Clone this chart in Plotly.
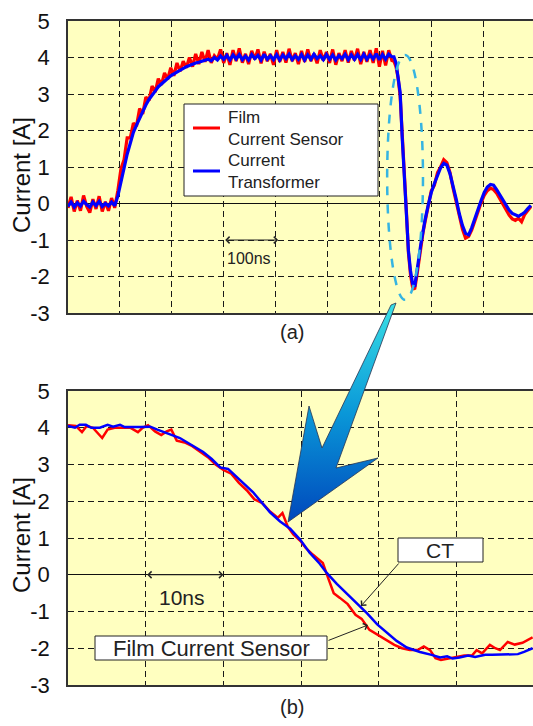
import plotly.graph_objects as go

FONT = "Liberation Sans, Arial, sans-serif"
TXT = "#222222"

# ---------------- panel (a): 100 ns / division ----------------
time_a = [0, 6, 12, 18, 24, 30, 36, 42, 48, 54, 60, 66, 72, 78, 84, 90, 96, 102, 108, 114,
          120, 126, 132, 138, 144, 150, 156, 162, 168, 174, 180, 186, 192, 198, 204, 210, 216, 222, 228, 234,
          240, 246, 252, 258, 264, 270, 276, 282, 288, 294, 300, 306, 312, 318, 324, 330, 336, 342, 348, 354,
          360, 366, 372, 378, 384, 390, 396, 402, 408, 414, 420, 426, 432, 438, 444, 450, 456, 462, 468, 474,
          480, 486, 492, 498, 504, 510, 516, 522, 528, 534, 540, 546, 552, 558, 564, 570, 576, 582, 588, 594,
          600, 606, 612, 618, 624,
          628, 632, 636, 640, 644, 648, 652, 656, 660, 664, 668, 672, 676, 680, 684, 688,
          694, 700, 706, 712, 718, 724, 730, 736, 742, 748, 754, 760, 766, 772, 778, 784, 790, 796, 802, 808,
          814, 820, 826, 832, 838, 844, 850, 856, 862, 868, 874, 880, 886, 892]

film_a = [-0.12, 0.18, -0.22, 0.08, -0.2, 0.22, -0.08, -0.25, 0.12, -0.15,
          0.2, -0.22, 0.05, -0.2, 0.15, -0.12, 0.35, 0.95, 1.2, 1.8,
          1.8, 2.2, 2.12, 2.6, 2.45, 2.92, 2.82, 3.22, 3.05, 3.42,
          3.25, 3.58, 3.4, 3.72, 3.5, 3.85, 3.62, 3.9, 3.72, 4.0,
          3.75, 4.1, 3.82, 4.15, 3.88, 4.2, 3.85, 4.05, 3.95, 4.22,
          3.85, 4.12, 3.8, 4.2, 3.9, 4.25, 3.86, 4.1, 3.82, 4.18,
          3.95, 4.22, 3.84, 4.16, 3.9, 4.1, 3.8, 4.2, 3.88, 4.15,
          3.86, 4.24, 3.9, 4.12, 3.82, 4.18, 3.88, 4.22, 3.9, 4.1,
          3.84, 4.2, 3.92, 4.15, 3.85, 4.22, 3.8, 4.12, 3.9, 4.2,
          3.86, 4.18, 3.92, 4.24, 3.82, 4.15, 3.88, 4.2, 3.85, 4.25,
          3.75, 4.18, 3.78, 4.2, 3.92,
          3.9, 3.75, 3.45, 2.95, 1.75, 0.8, -0.2, -1.35, -1.95, -2.3, -2.35, -2.0, -1.55, -1.2, -0.8, -0.5,
          -0.1, 0.35, 0.5, 0.85, 1.0, 1.2, 1.12, 0.85, 0.42, 0.05,
          -0.35, -0.7, -0.95, -0.9, -0.72, -0.45, -0.18, 0.02, 0.22, 0.35,
          0.42, 0.38, 0.28, 0.12, -0.02, -0.18, -0.32, -0.42, -0.46, -0.4,
          -0.5, -0.3, -0.2, -0.08]

ct_a = [-0.08, 0.04, -0.1, 0.02, -0.07, 0.06, -0.03, -0.1, 0.04, -0.06,
        0.06, -0.08, 0.0, -0.07, 0.04, -0.06, 0.2, 0.6, 1.0, 1.35,
        1.65, 1.95, 2.15, 2.35, 2.55, 2.7, 2.85, 2.98, 3.08, 3.2,
        3.28, 3.36, 3.42, 3.5, 3.55, 3.6, 3.66, 3.7, 3.75, 3.78,
        3.82, 3.85, 3.87, 3.9, 3.92, 3.95, 3.91, 4.0, 3.93, 4.04,
        3.95, 4.06, 3.93, 4.07, 3.96, 4.08, 3.94, 4.04, 3.93, 4.08,
        3.97, 4.06, 3.93, 4.09, 3.95, 4.05, 3.94, 4.08, 3.93, 4.07,
        3.97, 4.09, 3.94, 4.05, 3.95, 4.08, 3.93, 4.07, 3.95, 4.09,
        3.97, 4.05, 3.94, 4.08, 3.95, 4.07, 3.93, 4.05, 3.97, 4.09,
        3.94, 4.07, 3.95, 4.08, 3.94, 4.09, 3.95, 4.07, 3.96, 4.1,
        3.94, 4.08, 3.95, 4.09, 4.02,
        4.02, 3.85, 3.5, 3.05, 1.8, 0.85, -0.15, -1.3, -1.85, -2.2, -2.28, -1.95, -1.5, -1.1, -0.75, -0.45,
        -0.05, 0.3, 0.55, 0.78, 0.98, 1.1, 1.05, 0.82, 0.5, 0.12,
        -0.28, -0.6, -0.82, -0.86, -0.66, -0.4, -0.15, 0.08, 0.3, 0.45,
        0.52, 0.5, 0.38, 0.24, 0.1, -0.05, -0.18, -0.27, -0.32, -0.35,
        -0.3, -0.24, -0.14, -0.05]

# ---------------- panel (b): 10 ns / division ----------------
time_film_b = [0, 1.0, 1.8, 2.4, 3.2, 4.4, 5.1, 6.0, 8.0, 9.0,
               9.6, 10.3, 11.2, 12.0, 12.7, 13.3, 14.0, 15.0, 16.0, 17.0,
               18.0, 19.0, 20.0, 21.0, 22.0, 23.0, 24.0, 25.0, 26.0, 27.0,
               27.6, 28.3, 29.0, 30.0, 30.6, 31.5, 32.8, 33.5, 34.2, 35.0,
               36.0, 37.0, 37.8, 38.8, 40.0, 41.2, 42.0, 43.0, 44.0, 45.0,
               45.8, 46.6, 47.3, 48.0, 49.0, 50.0, 51.0, 52.0, 52.6, 53.3,
               54.3, 55.0, 55.6, 56.6, 57.5, 58.5, 59.8]
film_b = [4.07, 4.05, 3.88, 4.05, 4.0, 3.72, 3.95, 4.0, 4.0, 3.88,
          4.0, 4.07, 3.9, 3.8, 3.9, 3.95, 3.65, 3.6, 3.5, 3.35,
          3.2, 3.0, 2.85, 2.75, 2.5, 2.3, 2.05, 1.95, 1.72, 1.55,
          1.68, 1.3, 1.1, 0.9, 0.73, 0.55, 0.32, -0.1, -0.5, -0.63,
          -0.8, -1.09, -1.2, -1.5, -1.65, -1.8, -1.91, -2.0, -2.05, -2.05,
          -1.95, -2.05, -2.27, -2.32, -2.28, -2.25, -2.2, -2.2, -2.05, -2.14,
          -1.91, -2.0, -2.05, -1.83, -1.9, -1.85, -1.7]

time_ct_b = [0, 0.9, 1.5, 2.3, 3.0, 4.1, 5.1, 5.8, 6.7, 7.3,
             9.3, 10.6, 11.5, 12.5, 13.4, 14.4, 15.7, 17.4, 18.5, 19.6,
             20.6, 21.5, 22.8, 23.8, 25.0, 26.0, 27.3, 28.6, 29.9, 31.1,
             32.4, 33.3, 34.6, 35.9, 37.2, 38.5, 39.8, 41.1, 42.3, 43.6,
             45.3, 46.8, 47.9, 48.8, 49.5, 50.4, 51.5, 52.4, 53.7, 54.6,
             55.6, 56.9, 57.9, 58.7, 59.8]
ct_b = [4.05, 4.0, 4.08, 4.08, 4.0, 4.0, 4.08, 4.03, 4.08, 4.02,
        4.02, 4.03, 3.95, 3.88, 3.8, 3.72, 3.55, 3.34, 3.15, 2.92,
        2.88, 2.7, 2.45, 2.25, 1.95, 1.7, 1.45, 1.25, 0.95, 0.6,
        0.3, 0.05, -0.25, -0.52, -0.78, -1.05, -1.35, -1.58, -1.8, -1.98,
        -2.1, -2.18, -2.25, -2.22, -2.28, -2.25, -2.2, -2.24, -2.18, -2.18,
        -2.18, -2.17, -2.16, -2.1, -2.0]

y_tickvals = [-3, -2, -1, 0, 1, 2, 3, 4, 5]
y_ticktext = ["-3", "-2", "-1", "0", "1", "2", "3", "4", "5"]
series_names = ["Film<br>Current Sensor", "Current<br>Transformer"]
y_title = "Current [A]"

# decorative call-out arrow outline (page pixels)
callout_x = [391, 322, 309, 288, 378, 336, 396, 391]
callout_y = [305, 448, 406, 522, 458, 468, 303, 305]

W, H = 533, 726
RED, BLUE = "#FF0000", "#0000FF"
BG = "#FFFFC0"

fig = go.Figure()
fig.add_trace(go.Scatter(x=time_a, y=film_a, mode="lines", name=series_names[0], showlegend=False,
                         line=dict(color=RED, width=3.2), xaxis="x", yaxis="y"))
fig.add_trace(go.Scatter(x=time_a, y=ct_a, mode="lines", name=series_names[1], showlegend=False,
                         line=dict(color=BLUE, width=3.2), xaxis="x", yaxis="y"))
fig.add_trace(go.Scatter(x=time_film_b, y=film_b, mode="lines", showlegend=False,
                         line=dict(color=RED, width=2.5), xaxis="x2", yaxis="y2"))
fig.add_trace(go.Scatter(x=time_ct_b, y=ct_b, mode="lines", showlegend=False,
                         line=dict(color=BLUE, width=2.5), xaxis="x2", yaxis="y2"))
fig.add_trace(go.Scatter(x=callout_x, y=callout_y, mode="lines", fill="toself", showlegend=False,
                         hoverinfo="skip",
                         fillgradient=dict(type="vertical",
                                           colorscale=[[0, "#0048BC"], [0.5, "#0A98D8"], [1, "#3AE0E6"]]),
                         line=dict(color="#2A3550", width=0.8), xaxis="x3", yaxis="y3"))

grid = dict(showgrid=True, gridcolor="#1A1A1A", griddash="6px,4px", gridwidth=1.2)
line = dict(showline=True, linecolor="#333333", linewidth=1.5)

xcommon = dict(domain=[68 / W, 1.0], showticklabels=False, ticks="", zeroline=False,
               mirror=True, fixedrange=True, automargin=False, **grid, **line)
ycommon = dict(range=[-3, 5], tickmode="array", tickvals=y_tickvals, ticktext=y_ticktext,
               ticks="", zeroline=True, zerolinecolor="#111111", zerolinewidth=1.3,
               tickfont=dict(size=22, color="#111111", family=FONT), ticklabelstandoff=12,
               fixedrange=True, automargin=False, **grid, **line)

fig.update_layout(
    width=W, height=H, autosize=False,
    margin=dict(l=0, r=0, t=0, b=0, pad=0),
    paper_bgcolor="white", plot_bgcolor="rgba(0,0,0,0)",
    font=dict(family=FONT, color=TXT),
    xaxis=dict(range=[0, 896], tick0=0, dtick=100, anchor="y", **xcommon),
    yaxis=dict(domain=[1 - 313 / H, 1 - 21 / H], anchor="x", **ycommon),
    xaxis2=dict(range=[0, 59.85], tick0=0, dtick=10, anchor="y2", **xcommon),
    yaxis2=dict(domain=[1 - 685 / H, 1 - 391 / H], anchor="x2", **ycommon),
    xaxis3=dict(domain=[0, 1], range=[0, W], visible=False, anchor="y3", fixedrange=True, automargin=False),
    yaxis3=dict(domain=[0, 1], range=[H, 0], visible=False, anchor="x3", fixedrange=True, automargin=False),
    showlegend=False,
)

shapes = [
    dict(type="rect", xref="x domain", yref="y domain", x0=0, x1=1, y0=0, y1=1,
         fillcolor=BG, line=dict(width=0), layer="below"),
    dict(type="rect", xref="x2 domain", yref="y2 domain", x0=0, x1=1, y0=0, y1=1,
         fillcolor=BG, line=dict(width=0), layer="below"),
    # dashed ellipse around the fall in (a)
    dict(type="circle", xref="x", yref="y", x0=615, x1=684, y0=-2.64, y1=4.07,
         line=dict(color="#35B4E2", width=2.5, dash="dash"), layer="above"),
    # legend box of (a)
    dict(type="rect", xref="x3", yref="y3", x0=184, x1=378, y0=104, y1=196,
         fillcolor="white", line=dict(color="#222222", width=1)),
    dict(type="line", xref="x3", yref="y3", x0=193, x1=220, y0=128, y1=128,
         line=dict(color=RED, width=3)),
    dict(type="line", xref="x3", yref="y3", x0=193, x1=220, y0=171, y1=171,
         line=dict(color=BLUE, width=3)),
    # label boxes in (b)
    dict(type="rect", xref="x3", yref="y3", x0=398, x1=483, y0=538, y1=562,
         fillcolor="white", line=dict(color="#222222", width=1)),
    dict(type="rect", xref="x3", yref="y3", x0=95, x1=327, y0=636, y1=660,
         fillcolor="white", line=dict(color="#222222", width=1)),
]
fig.update_layout(shapes=shapes)

ann = [
    dict(text=series_names[0], xref="x3", yref="y3", x=226, y=128, xanchor="left", align="left",
         showarrow=False, font=dict(size=17, color=TXT)),
    dict(text=series_names[1], xref="x3", yref="y3", x=226, y=171, xanchor="left", align="left",
         showarrow=False, font=dict(size=17, color=TXT)),
    dict(text="(a)", xref="x3", yref="y3", x=292, y=332, showarrow=False, font=dict(size=20, color=TXT)),
    dict(text="(b)", xref="x3", yref="y3", x=292, y=707, showarrow=False, font=dict(size=20, color=TXT)),
    dict(text=y_title, xref="x3", yref="y3", x=21, y=175, textangle=-90, showarrow=False,
         font=dict(size=24, color="#111111")),
    dict(text=y_title, xref="x3", yref="y3", x=21, y=535, textangle=-90, showarrow=False,
         font=dict(size=24, color="#111111")),
    # 100 ns marker
    dict(text="", xref="x", yref="y", x=405, y=-1, axref="x", ayref="y", ax=300, ay=-1,
         showarrow=True, arrowside="end+start", arrowhead=4, startarrowhead=4,
         arrowsize=1.3, startarrowsize=1.3, arrowwidth=1, arrowcolor="#222222"),
    dict(text="100ns", xref="x3", yref="y3", x=249, y=258, showarrow=False, font=dict(size=16, color=TXT)),
    # 10 ns marker
    dict(text="", xref="x2", yref="y2", x=20, y=0, axref="x2", ayref="y2", ax=10, ay=0,
         showarrow=True, arrowside="end+start", arrowhead=4, startarrowhead=4,
         arrowsize=1.3, startarrowsize=1.3, arrowwidth=1, arrowcolor="#222222"),
    dict(text="10ns", xref="x3", yref="y3", x=182, y=597, showarrow=False, font=dict(size=21, color=TXT)),
    # CT call-out
    dict(text="CT", xref="x3", yref="y3", x=440, y=550, showarrow=False, font=dict(size=21, color=TXT)),
    dict(text="", xref="x3", yref="y3", x=361, y=606, axref="x3", ayref="y3", ax=400, ay=562,
         showarrow=True, arrowhead=4, arrowsize=1.3, arrowwidth=1, arrowcolor="#222222"),
    # Film Current Sensor call-out
    dict(text="Film Current Sensor", xref="x3", yref="y3", x=211, y=648, showarrow=False,
         font=dict(size=22, color=TXT)),
    dict(text="", xref="x3", yref="y3", x=368, y=625, axref="x3", ayref="y3", ax=327, ay=641,
         showarrow=True, arrowhead=4, arrowsize=1.3, arrowwidth=1, arrowcolor="#222222"),
]
fig.update_layout(annotations=ann)

fig.write_html("out.html")
